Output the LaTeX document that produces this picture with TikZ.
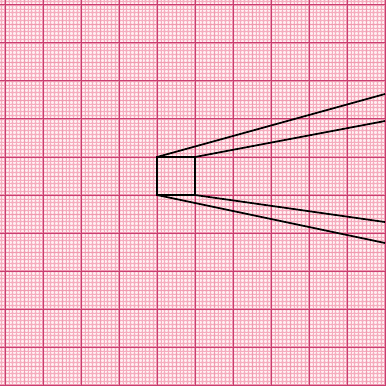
\documentclass[tikz,border=0pt]{standalone}
\usepackage{tikz}
\definecolor{paper}{RGB}{250,214,221}
\definecolor{fineline}{RGB}{245,172,190}
\definecolor{whiteline}{RGB}{255,238,241}
\definecolor{midline}{RGB}{240,155,176}
\definecolor{majorhalo}{RGB}{238,150,175}
\definecolor{majorline}{RGB}{200,62,112}
\tikzset{
  finegrid/.style={draw=fineline,line width=0.3pt},
  whitegrid/.style={draw=whiteline,line width=0.45pt},
  midgrid/.style={draw=midline,line width=0.45pt},
  majorhalogrid/.style={draw=majorhalo,line width=2.1pt},
  majorgrid/.style={draw=majorline,line width=0.75pt},
  zoombox/.style={draw=black,line width=1.5pt},
  zoomray/.style={draw=black,line width=1.3pt}
}
\begin{document}
\begin{tikzpicture}
\useasboundingbox (-0.1316,-0.026) rectangle (10.0,10.1316);
\fill[paper] (-0.1316,-0.026) rectangle (10.0,10.1316);
\draw[whitegrid,shift={(0.05,0.05)}] (-0.2,-0.2) grid[step=0.1] (10.2,10.2);
\draw[finegrid] (-0.2,-0.2) grid[step=0.1] (10.2,10.2);
\draw[midgrid] (-0.5,-0.5) grid[step=0.5] (10.2,10.2);
\draw[majorhalogrid] (-1,-1) grid[step=1] (11,11);
\draw[majorgrid] (-1,-1) grid[step=1] (11,11);
\coordinate (tl) at (4,6);
\coordinate (tr) at (5,6);
\coordinate (br) at (5,5);
\coordinate (bl) at (4,5);
\coordinate (e1) at (10,7.658);
\coordinate (e2) at (10,6.947);
\coordinate (e3) at (10,4.289);
\coordinate (e4) at (10,3.737);
\draw[zoomray] (tl) -- (e1);
\draw[zoomray] (tr) -- (e2);
\draw[zoomray] (br) -- (e3);
\draw[zoomray] (bl) -- (e4);
\draw[zoombox] (tl) rectangle (br);
\end{tikzpicture}
\end{document}
